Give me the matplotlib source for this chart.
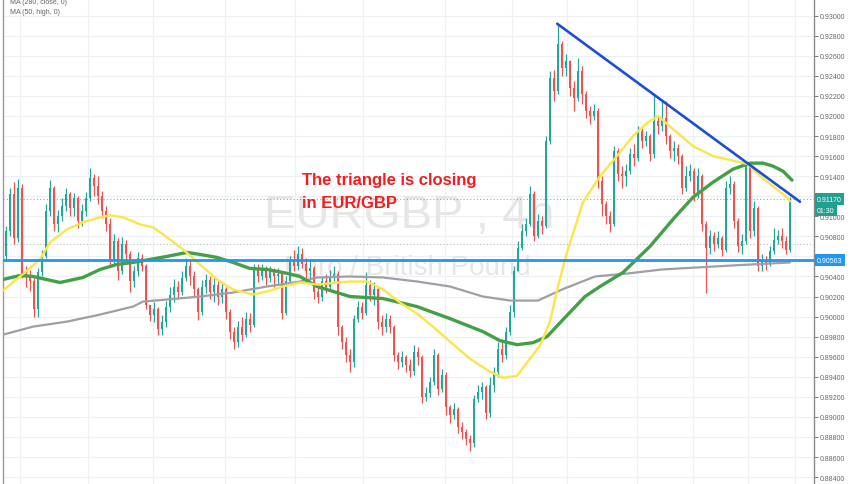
import matplotlib
matplotlib.use("Agg")
import matplotlib.pyplot as plt
import numpy as np

# ---------------- data (EUR/GBP 4h) ----------------
open0 = 0.9060
closes = [0.9085, 0.9122, 0.9078, 0.9128, 0.9042, 0.9040, 0.9035, 0.9008, 0.9044, 0.9060,
          0.9105, 0.9128, 0.9092, 0.9100, 0.9110, 0.9122, 0.9108, 0.9118, 0.9095, 0.9105,
          0.9118, 0.9138, 0.9130, 0.9120, 0.9105, 0.9092, 0.9055, 0.9075, 0.9045, 0.9072,
          0.9062, 0.9035, 0.9045, 0.9058, 0.9050, 0.9012, 0.9002, 0.9008, 0.8988, 0.8995,
          0.9010, 0.9022, 0.9030, 0.9025, 0.9038, 0.9050, 0.9040, 0.9028, 0.9005, 0.9030,
          0.9036, 0.9025, 0.9032, 0.9020, 0.9028, 0.9005, 0.8985, 0.8975, 0.8990, 0.8982,
          0.8998, 0.8992, 0.9048, 0.9040, 0.9046, 0.9038, 0.9045, 0.9040, 0.9042, 0.9004,
          0.9035, 0.9056, 0.9050, 0.9062, 0.9052, 0.9045, 0.9048, 0.9025, 0.9020, 0.9035,
          0.9030, 0.9040, 0.9042, 0.8990, 0.8975, 0.8962, 0.8955, 0.8998, 0.9010, 0.9004,
          0.9032, 0.9022, 0.9028, 0.8995, 0.8990, 0.8998, 0.8990, 0.8962, 0.8955, 0.8960,
          0.8952, 0.8946, 0.8965, 0.8960, 0.8920, 0.8924, 0.8935, 0.8962, 0.8928, 0.8942,
          0.8910, 0.8902, 0.8908, 0.8890, 0.8885, 0.8878, 0.8874, 0.8918, 0.8925, 0.8930,
          0.8904, 0.8932, 0.8945, 0.8968, 0.8962, 0.8985, 0.9005, 0.9045, 0.9068, 0.9085,
          0.9092, 0.9122, 0.9080, 0.9095, 0.9090, 0.9175, 0.9238, 0.9225, 0.9272, 0.9248,
          0.9255, 0.9228, 0.9218, 0.9245, 0.9222, 0.9205, 0.9200, 0.9205, 0.9135, 0.9112,
          0.9100, 0.9092, 0.9165, 0.9142, 0.9140, 0.9145, 0.9162, 0.9158, 0.9185, 0.9175,
          0.9180, 0.9162, 0.9195, 0.9190, 0.9198, 0.9180, 0.9165, 0.9168, 0.9160, 0.9128,
          0.9140, 0.9145, 0.9122, 0.9140, 0.9092, 0.9068, 0.9080, 0.9072, 0.9078, 0.9066,
          0.9128, 0.9132, 0.9095, 0.9070, 0.9075, 0.9150, 0.9085, 0.9108, 0.9050, 0.9055,
          0.9052, 0.9065, 0.9076, 0.9080, 0.9075, 0.9066, 0.9117]
highs = [0.9090, 0.9128, 0.9134, 0.9137, 0.9132, 0.9050, 0.9046, 0.9038, 0.9048, 0.9066,
         0.9112, 0.9136, 0.9130, 0.9106, 0.9118, 0.9128, 0.9124, 0.9123, 0.9120, 0.9112,
         0.9124, 0.9148, 0.9142, 0.9140, 0.9125, 0.9110, 0.9098, 0.9082, 0.9078, 0.9079,
         0.9076, 0.9065, 0.9050, 0.9064, 0.9062, 0.9052, 0.9012, 0.9015, 0.9010, 0.9002,
         0.9016, 0.9030, 0.9037, 0.9035, 0.9045, 0.9058, 0.9056, 0.9045, 0.9030, 0.9036,
         0.9042, 0.9040, 0.9038, 0.9035, 0.9034, 0.9030, 0.9008, 0.8990, 0.8996, 0.9000,
         0.9005, 0.9004, 0.9052, 0.9052, 0.9052, 0.9050, 0.9050, 0.9048, 0.9048, 0.9044,
         0.9040, 0.9060, 0.9066, 0.9070, 0.9068, 0.9058, 0.9055, 0.9050, 0.9030, 0.9040,
         0.9042, 0.9046, 0.9050, 0.9045, 0.8992, 0.8980, 0.8968, 0.9002, 0.9016, 0.9015,
         0.9044, 0.9036, 0.9034, 0.9030, 0.9002, 0.9004, 0.9002, 0.8992, 0.8965, 0.8966,
         0.8962, 0.8958, 0.8972, 0.8970, 0.8962, 0.8930, 0.8940, 0.8968, 0.8964, 0.8948,
         0.8945, 0.8912, 0.8914, 0.8910, 0.8895, 0.8888, 0.8882, 0.8922, 0.8932, 0.8935,
         0.8932, 0.8940, 0.8950, 0.8975, 0.8978, 0.8990, 0.9012, 0.9050, 0.9075, 0.9092,
         0.9098, 0.9130, 0.9125, 0.9102, 0.9100, 0.9180, 0.9245, 0.9246, 0.9292, 0.9275,
         0.9262, 0.9256, 0.9235, 0.9258, 0.9250, 0.9225, 0.9210, 0.9212, 0.9208, 0.9140,
         0.9115, 0.9105, 0.9170, 0.9168, 0.9150, 0.9152, 0.9168, 0.9172, 0.9190, 0.9188,
         0.9185, 0.9182, 0.9220, 0.9200, 0.9217, 0.9215, 0.9182, 0.9175, 0.9172, 0.9162,
         0.9150, 0.9152, 0.9148, 0.9148, 0.9142, 0.9095, 0.9086, 0.9084, 0.9085, 0.9080,
         0.9135, 0.9140, 0.9135, 0.9098, 0.9082, 0.9155, 0.9152, 0.9115, 0.9110, 0.9062,
         0.9060, 0.9070, 0.9088, 0.9086, 0.9088, 0.9080, 0.9119]
lows = [0.9055, 0.9080, 0.9072, 0.9074, 0.9038, 0.9030, 0.9026, 0.9000, 0.9000, 0.9040,
        0.9058, 0.9100, 0.9085, 0.9084, 0.9095, 0.9105, 0.9100, 0.9100, 0.9088, 0.9090,
        0.9100, 0.9115, 0.9120, 0.9112, 0.9098, 0.9085, 0.9050, 0.9052, 0.9036, 0.9042,
        0.9055, 0.9025, 0.9030, 0.9040, 0.9045, 0.9008, 0.8996, 0.8995, 0.8982, 0.8982,
        0.8990, 0.9005, 0.9015, 0.9018, 0.9022, 0.9035, 0.9032, 0.9020, 0.8997, 0.9002,
        0.9024, 0.9018, 0.9015, 0.9012, 0.9014, 0.8998, 0.8978, 0.8968, 0.8970, 0.8976,
        0.8980, 0.8985, 0.8990, 0.9034, 0.9036, 0.9032, 0.9034, 0.9030, 0.9032, 0.8998,
        0.9002, 0.9032, 0.9045, 0.9046, 0.9048, 0.9038, 0.9036, 0.9018, 0.9014, 0.9016,
        0.9024, 0.9028, 0.9035, 0.8982, 0.8968, 0.8955, 0.8945, 0.8950, 0.8995, 0.8998,
        0.9002, 0.9016, 0.9012, 0.8988, 0.8982, 0.8985, 0.8984, 0.8956, 0.8948, 0.8950,
        0.8945, 0.8940, 0.8942, 0.8952, 0.8914, 0.8916, 0.8920, 0.8932, 0.8922, 0.8925,
        0.8902, 0.8894, 0.8898, 0.8884, 0.8878, 0.8872, 0.8866, 0.8870, 0.8915, 0.8918,
        0.8898, 0.8900, 0.8925, 0.8940, 0.8955, 0.8958, 0.8982, 0.9000, 0.9045, 0.9066,
        0.9080, 0.9090, 0.9075, 0.9078, 0.9082, 0.9088, 0.9172, 0.9215, 0.9222, 0.9240,
        0.9240, 0.9220, 0.9205, 0.9215, 0.9212, 0.9198, 0.9192, 0.9196, 0.9128, 0.9100,
        0.9092, 0.9084, 0.9090, 0.9135, 0.9128, 0.9130, 0.9142, 0.9150, 0.9155, 0.9168,
        0.9170, 0.9155, 0.9158, 0.9182, 0.9185, 0.9172, 0.9158, 0.9155, 0.9152, 0.9122,
        0.9125, 0.9135, 0.9115, 0.9118, 0.9085, 0.9024, 0.9062, 0.9065, 0.9068, 0.9060,
        0.9064, 0.9122, 0.9088, 0.9064, 0.9062, 0.9072, 0.9078, 0.9080, 0.9045, 0.9045,
        0.9046, 0.9050, 0.9062, 0.9072, 0.9068, 0.9062, 0.9064]

# moving averages (x in candle-index units)
ma_fast_x = [-0.75, 3.5, 8.5, 11, 15.25, 19.25, 23.5, 26, 29.25, 33.5, 36.75, 40.25, 44.25,
             48.5, 52.75, 56.75, 61.75, 65.25, 69.25, 73.5, 77.75, 86, 90.25, 94.25, 98.5,
             102.75, 106.75, 111, 116, 121, 124.25, 127.75, 131, 133.5, 136, 138, 140.25,
             144.25, 148.5, 152.75, 156.75, 160.25, 163, 166.75, 171.75, 176.75, 182.25,
             185.5, 188.5, 191.75, 195.25, 196]
ma_fast_y = [0.9026, 0.9040, 0.9057, 0.9074, 0.9087, 0.9094, 0.9099, 0.9101, 0.9099, 0.9092,
             0.9089, 0.9079, 0.9067, 0.9052, 0.9037, 0.9027, 0.9022, 0.9025, 0.9030, 0.9034,
             0.9032, 0.9035, 0.9035, 0.9027, 0.9014, 0.9003, 0.8990, 0.8975, 0.8958, 0.8945,
             0.8939, 0.8941, 0.8958, 0.8971, 0.8995, 0.9030, 0.9064, 0.9114, 0.9140, 0.9160,
             0.9180, 0.9193, 0.9200, 0.9187, 0.9170, 0.9160, 0.9155, 0.9152, 0.9140, 0.9130,
             0.9119, 0.9115]
ma_high_x = [-0.75, 3.5, 6.75, 13.5, 19.25, 23.5, 27.75, 31.75, 36, 40.25, 45.25, 48.5,
             52.75, 56.75, 61, 65.25, 69.25, 73.5, 77.75, 86, 94.25, 102.75, 111, 119.25,
             123.5, 127.75, 131.75, 135.25, 139.25, 144.75, 148.5, 154.25, 161, 166.75,
             171.75, 176.75, 181.75, 186, 189.25, 191.75, 194.25, 196.5]
ma_high_y = [0.9037, 0.9041, 0.9040, 0.9034, 0.9039, 0.9047, 0.9052, 0.9054, 0.9057, 0.9060,
             0.9064, 0.9062, 0.9059, 0.9054, 0.9048, 0.9047, 0.9044, 0.9040, 0.9030, 0.9020,
             0.9018, 0.9010, 0.8998, 0.8985, 0.8976, 0.8972, 0.8974, 0.8980, 0.8997, 0.9020,
             0.9030, 0.9044, 0.9070, 0.9097, 0.9119, 0.9134, 0.9147, 0.9153, 0.9153, 0.9150,
             0.9145, 0.9136]
ma_slow_x = [-0.75, 6.75, 15.25, 23.5, 31.75, 34.25, 40.25, 48.5, 56.75, 65.25, 73.5, 77.75,
             86, 94.25, 102.75, 111, 119.25, 126, 133, 139, 147.25, 155.5, 164, 181.75, 196]
ma_slow_y = [0.8982, 0.8990, 0.8995, 0.9002, 0.9010, 0.9015, 0.9017, 0.9020, 0.9024, 0.9030,
             0.9035, 0.9039, 0.9040, 0.9039, 0.9035, 0.9030, 0.9020, 0.9016, 0.9016, 0.9027,
             0.9040, 0.9043, 0.9047, 0.9051, 0.9054]

trend_x = [137.8, 198.5]
trend_y = [0.9292, 0.91145]
support_level = 0.90563
last_price = 0.91170
prev_close_level = 0.90724
price_ticks = [0.884 + 0.002 * k for k in range(24)]
hidden_tick_labels = ["0.91200", "0.90600"]   # covered by the price boxes in the reference
legend_lines = ["MA (280, close, 0)", "MA (50, high, 0)"]
annotation_lines = ["The triangle is closing", "in EUR/GBP"]

# ---------------- figure ----------------
W, H = 852, 485
fig = plt.figure(figsize=(W / 100, H / 100), dpi=100)
fig.patch.set_facecolor("white")
ax = fig.add_axes([3 / W, 0, 811 / W, 1])
ax.set_facecolor("white")

ymax = 0.930 + 16.7 / 10030
ymin = 0.930 - (H - 16.7) / 10030
ax.set_ylim(ymin, ymax)
ax.set_xlim(-0.75, 202.0)

# grid
grid_x = [3.5, 20.5, 36.75, 54.75, 72.25, 89.25, 109.75, 126.5, 140.25, 157.75, 171.75, 185.5, 197.25]
for gx in grid_x:
    ax.axvline(gx, color="#edf1f6", lw=0.9, zorder=0)
for t in price_ticks:
    ax.axhline(t, color="#edf1f6", lw=0.9, zorder=0)

# watermark
ax.text(100.75, 0.90893, "EURGBP , 4h", ha="center", va="baseline",
        fontsize=34, color="#e6e6e6", zorder=0.5,
        family=["Liberation Sans", "DejaVu Sans"])
ax.text(100.4, 0.90425, "Euro / British Pound", ha="center", va="baseline",
        fontsize=20, color="#e6e6e6", zorder=0.5,
        family=["Liberation Sans", "DejaVu Sans"])

# dotted levels
ax.axhline(last_price, color="#26a69a", lw=0.8, ls=(0, (1, 2)), zorder=1, alpha=0.7)
ax.axhline(prev_close_level, color="#9e9e9e", lw=0.8, ls=(0, (1, 2)), zorder=1, alpha=0.7)

# candles
c = np.array(closes)
o = np.concatenate([[open0], c[:-1]])
h = np.maximum(np.array(highs), np.maximum(o, c))
l = np.minimum(np.array(lows), np.minimum(o, c))
idx = np.arange(len(c))
up = c >= o
col = np.where(up, "#26a69a", "#ef5350")
ax.vlines(idx, l, h, colors=col, lw=0.9, zorder=2)
body_h = np.maximum(np.abs(c - o), 0.00006)
ax.bar(idx, body_h, bottom=np.minimum(o, c), width=0.72, color=col, lw=0, zorder=2.1)

# moving averages
ax.plot(ma_slow_x, ma_slow_y, color="#a09ea6", lw=1.6, zorder=3, solid_capstyle="round")
ax.plot(ma_high_x, ma_high_y, color="#43a047", lw=2.4, zorder=3.1, solid_capstyle="round")
ax.plot(ma_fast_x, ma_fast_y, color="#fbe64a", lw=1.7, zorder=3.2, solid_capstyle="round")

# support and trend line
ax.axhline(support_level, color="#2196f3", lw=2.0, zorder=4)
ax.plot(trend_x, trend_y, color="#1d4fd4", lw=1.9, zorder=4, solid_capstyle="round")

# annotation
ax.text(74.0, 0.91322, annotation_lines[0], color="#f01e1e", fontsize=12, fontweight="bold",
        ha="left", va="baseline", zorder=6, family=["Liberation Sans", "DejaVu Sans"])
ax.text(74.0, 0.91093, annotation_lines[1], color="#f01e1e", fontsize=12, fontweight="bold",
        ha="left", va="baseline", zorder=6, family=["Liberation Sans", "DejaVu Sans"])

# axes styling
for s in ["top", "bottom"]:
    ax.spines[s].set_visible(False)
ax.spines["left"].set_color("#9a9a9a")
ax.spines["right"].set_color("#8a8a8a")
ax.spines["left"].set_linewidth(1.0)
ax.spines["right"].set_linewidth(1.0)
ax.set_xticks([])
ax.yaxis.tick_right()
ax.set_yticks(price_ticks)
tick_texts = [f"{t:.5f}" for t in price_ticks]
ax.set_yticklabels(["" if s in hidden_tick_labels else s for s in tick_texts])
ax.tick_params(axis="y", labelsize=5, colors="#666666", length=3, width=0.6, pad=1.5)
for lab in ax.get_yticklabels():
    lab.set_family(["Liberation Sans", "DejaVu Sans"])

# price boxes on axis
def axis_box(y, txt, fc, dy=0.0):
    ax.annotate(txt, xy=(1.0, y), xycoords=("axes fraction", "data"),
                xytext=(3, dy), textcoords="offset pixels", ha="left", va="center",
                fontsize=5, color="white", zorder=10, annotation_clip=False,
                family=["Liberation Sans", "DejaVu Sans"],
                bbox=dict(boxstyle="square,pad=0.35", fc=fc, ec="none"))

axis_box(last_price, "0.91170", "#22a08f")
axis_box(last_price, "01:30", "#22a08f", dy=-11)
axis_box(support_level, "0.90563", "#2196f3")

# legend lines top-left
fig.text(10 / W, 1 - 3 / H, legend_lines[0], fontsize=5, color="#666666", va="center", ha="left",
         family=["Liberation Sans", "DejaVu Sans"])
fig.text(10 / W, 1 - 12.7 / H, legend_lines[1], fontsize=5, color="#666666", va="center", ha="left",
         family=["Liberation Sans", "DejaVu Sans"])

fig.savefig("out.png", dpi=100, facecolor="white")
